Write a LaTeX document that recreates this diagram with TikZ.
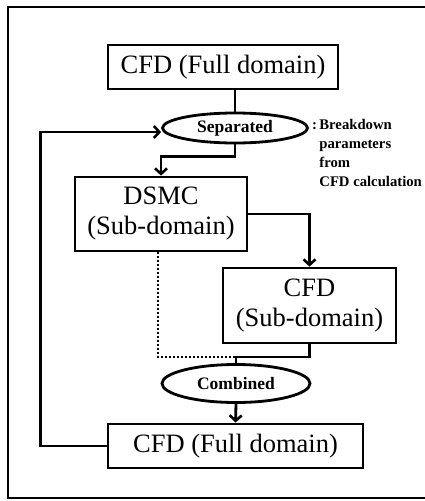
\documentclass[tikz,border=0pt]{standalone}
\usepackage{fontspec}
\setmainfont{Liberation Serif}
\usetikzlibrary{arrows.meta,shapes.geometric}

\begin{document}
\begin{tikzpicture}[x=1pt,y=-1pt,
    line width=2.8pt,
    >={Straight Barb[length=5.5pt,width=12pt,line width=2.6pt]},
    stepbox/.style={draw,inner sep=0pt,align=center,
      font=\fontsize{26.5}{30}\selectfont},
    decision/.style={draw,ellipse,inner sep=0pt,
      font=\fontsize{17.5}{20}\selectfont\bfseries},
    note/.style={inner sep=0pt,align=left,
      font=\fontsize{14.7}{19}\selectfont\bfseries}]
  \useasboundingbox (0,0) rectangle (425,501);
  % frame, open on the right
  \draw[line width=2.2pt] (425,7) -- (8,7) -- (8,498) -- (425,498);

  \node[stepbox,minimum width=230pt,minimum height=44pt] (full) at (223,67) {CFD (Full domain)};
  \node[decision,minimum width=145pt,minimum height=30pt] (sep) at (235,128) {Separated};
  \node[note,anchor=north west] (why) at (318,118) {\llap{:\,}Breakdown\\parameters\\from\\CFD calculation};
  \node[stepbox,minimum width=172pt,minimum height=74pt] (dsmc) at (161,214) {DSMC\\(Sub-domain)};
  \node[stepbox,minimum width=173pt,minimum height=75pt] (sub) at (309.5,305.5) {CFD\\(Sub-domain)};
  \node[decision,minimum width=148pt,minimum height=38pt] (comb) at (236,383.5) {Combined};
  \node[stepbox,minimum width=255pt,minimum height=44pt] (last) at (235.5,446) {CFD (Full domain)};

  \coordinate (join) at (236,357);

  \draw (sep.north |- full.south) -- (sep.north);
  \draw[->] (sep.south) -- ++(0,12) -| (dsmc.north);
  \draw[->] (dsmc.east) -| (sub.north);
  \draw (sub.south) |- (join) -- (comb.north);
  \draw[line width=2.2pt,dash pattern=on 2pt off 2pt] ([xshift=-3pt]dsmc.south) |- (join);
  \draw[->] (comb.south) -- (last.north);
  \draw[->] (last.west) -- ++(-66,0) |- ([yshift=-4pt]sep.west);
\end{tikzpicture}
\end{document}
